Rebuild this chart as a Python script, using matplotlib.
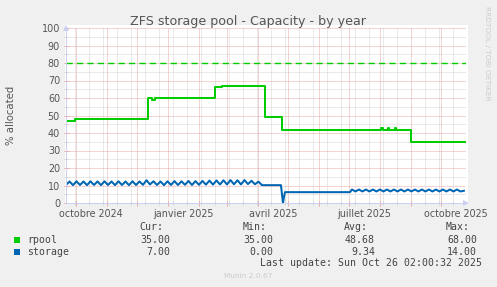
import datetime as dt
import numpy as np
import pandas as pd
import matplotlib
matplotlib.use("Agg")
import matplotlib.pyplot as plt
import matplotlib.dates as mdates
from matplotlib.patches import Rectangle
from matplotlib.ticker import MultipleLocator, FixedLocator

# ------------------------- data -------------------------
title = "ZFS storage pool - Capacity - by year"
y_label = "% allocated"

rpool_dates = ["2024-09-21", "2024-09-30", "2024-12-12", "2024-12-16", "2024-12-19",
               "2025-02-17", "2025-02-24", "2025-04-08", "2025-04-25",
               "2025-08-02", "2025-08-04", "2025-08-09", "2025-08-10",
               "2025-08-16", "2025-08-17", "2025-09-01", "2025-10-26"]
rpool_values = [46.7, 48.0, 60.0, 59.0, 60.0,
                66.2, 66.9, 49.2, 41.9,
                42.7, 41.9, 42.7, 41.9,
                42.7, 41.9, 35.0, 35.0]

# storage: half-week samples from 2024-09-21
storage_wave1_start = "2024-09-21"
storage_wave1 = [10.3, 12.3, 10.2, 12.4, 10.3, 12.3, 10.2, 12.4, 10.3, 12.3,
                 10.2, 12.4, 10.3, 12.3, 10.2, 12.4, 10.3, 12.3, 10.2, 12.4,
                 10.3, 12.3, 10.4, 13.0, 10.6, 12.4, 10.3, 12.3, 10.2, 12.4,
                 10.3, 12.5, 10.3, 12.4, 10.4, 12.6, 10.3, 12.5, 10.4, 12.6,
                 10.5, 12.8, 10.5, 12.9, 10.6, 13.0, 10.6, 13.1, 10.7, 13.0,
                 10.6, 13.1, 10.8, 12.7, 10.7, 12.2, 10.2]
storage_mid_dates = ["2025-04-05", "2025-04-24", "2025-04-26", "2025-04-28", "2025-07-02"]
storage_mid_values = [10.2, 10.2, 0.0, 6.2, 6.2]
storage_wave2_start = "2025-07-04"
storage_wave2 = [7.7, 6.6, 7.7, 6.6, 7.7, 6.6, 7.7, 6.6, 7.7, 6.6,
                 7.7, 6.6, 7.7, 6.6, 7.7, 6.6, 7.7, 6.6, 7.7, 6.6,
                 7.7, 6.6, 7.7, 6.6, 7.7, 6.6, 7.7, 6.6, 7.7, 6.6,
                 7.7, 6.6, 7.0]
sample_step_days = 3.5

warning_level = 80

x_label_dates = ["2024-10-16", "2025-01-16", "2025-04-16", "2025-07-16", "2025-10-16"]
x_labels = ["octobre 2024", "janvier 2025", "avril 2025", "juillet 2025", "octobre 2025"]

legend_names = ["rpool", "storage"]
legend_cur = ["35.00", "7.00"]
legend_min = ["35.00", "0.00"]
legend_avg = ["48.68", "9.34"]
legend_max = ["68.00", "14.00"]
last_update = "Last update: Sun Oct 26 02:00:32 2025"
footer = "Munin 2.0.67"
watermark = "RRDTOOL / TOBI OETIKER"

c_green = "#00cc00"
c_blue = "#0066b3"

# ------------------------- build series -------------------------
r_x = pd.to_datetime(rpool_dates)
w1_x = pd.Timestamp(storage_wave1_start) + pd.to_timedelta(np.arange(len(storage_wave1)) * sample_step_days, unit="D")
w2_x = pd.Timestamp(storage_wave2_start) + pd.to_timedelta(np.arange(len(storage_wave2)) * sample_step_days, unit="D")
s_x = list(w1_x) + list(pd.to_datetime(storage_mid_dates)) + list(w2_x)
s_y = list(storage_wave1) + list(storage_mid_values) + list(storage_wave2)

# ------------------------- figure -------------------------
W, H = 497, 287
L, R, T, B = 66, 466, 28, 203
fig = plt.figure(figsize=(W / 100, H / 100), dpi=100, facecolor="#f0f0f0")
fig.patches.append(Rectangle((65 / W, 1 - 204 / H), (468 - 65) / W, (204 - 25) / H,
                             transform=fig.transFigure, facecolor="white",
                             edgecolor="none", zorder=-1))
ax = fig.add_axes([L / W, 1 - B / H, (R - L) / W, (B - T) / H])
ax.set_facecolor("white")

x0, x1 = dt.datetime(2024, 9, 21), dt.datetime(2025, 10, 26, 2)
ax.set_xlim(x0, x1)
ax.set_ylim(0, 100)

# grid (dotted)
grid_major = "#e8aaaa"
grid_minor = "#d5d5d5"
month_starts = mdates.date2num(pd.date_range("2024-10-01", "2025-10-01", freq="MS"))
minor_dates = mdates.date2num(pd.date_range("2024-09-30", "2025-10-26", freq="2W-MON"))
minor_dates = [d for d in minor_dates if d not in set(month_starts)]
dot = (0, (1, 1))
ax.vlines(minor_dates, 0, 100, colors=grid_minor, linestyles=dot, lw=0.72, zorder=1)
ax.hlines(np.arange(5, 100, 10), mdates.date2num(x0), mdates.date2num(x1),
          colors=grid_minor, linestyles=dot, lw=0.72, zorder=1)
ax.vlines(month_starts, 0, 100, colors=grid_major, linestyles=dot, lw=0.72, zorder=2)
ax.hlines(np.arange(10, 101, 10), mdates.date2num(x0), mdates.date2num(x1),
          colors=grid_major, linestyles=dot, lw=0.72, zorder=2, clip_on=False)

ax.axhline(warning_level, color=c_green, lw=1.0, linestyle=(0, (4.5, 3)), zorder=4)
ax.plot(r_x, rpool_values, color=c_green, lw=1.45, drawstyle="steps-post", zorder=5)
ax.plot(s_x, s_y, color=c_blue, lw=1.45, zorder=5)

ax.xaxis.set_major_locator(FixedLocator(month_starts))
ax.xaxis.set_minor_locator(FixedLocator(minor_dates))
ax.yaxis.set_major_locator(MultipleLocator(10))
ax.yaxis.set_minor_locator(MultipleLocator(5))

for s in ["top", "right"]:
    ax.spines[s].set_visible(False)
axis_col = "#c9d0f2"
for s in ["left", "bottom"]:
    ax.spines[s].set_color(axis_col)
    ax.spines[s].set_linewidth(0.72)
    ax.spines[s].set_zorder(6)

ax.tick_params(axis="x", which="major", direction="inout", length=3.6, width=0.72,
               color=grid_major, labelbottom=False)
ax.tick_params(axis="x", which="minor", direction="inout", length=2.2, width=0.72,
               color=grid_minor, labelbottom=False)
ax.tick_params(axis="y", which="major", direction="inout", length=3.6, width=0.72,
               color=grid_major, labelsize=6.9, labelcolor="#555555", pad=2.5)
ax.tick_params(axis="y", which="minor", direction="inout", length=2.2, width=0.72,
               color=grid_minor)

sec = ax.secondary_xaxis("bottom")
sec.set_xticks(mdates.date2num(pd.to_datetime(x_label_dates)))
sec.set_xticklabels(x_labels)
sec.tick_params(length=0, pad=4.2, labelsize=6.9, labelcolor="#555555")
sec.spines["bottom"].set_visible(False)

# axis arrows
ax.plot([0], [1.0], marker="^", ms=4, color=axis_col, transform=ax.transAxes,
        clip_on=False, zorder=6, markeredgewidth=0)
ax.plot([1.0], [0], marker=">", ms=4, color=axis_col, transform=ax.transAxes,
        clip_on=False, zorder=6, markeredgewidth=0)

# texts
def fx(x):
    return x / W

def fy(y):
    return 1 - y / H

fig.text(fx(248), fy(25.5), title, ha="center", va="baseline", fontsize=9.1,
         color="#555555")
fig.text(fx(11), fy(115.5), y_label, ha="center", va="center", rotation=90,
         fontsize=7.3, color="#555555")
fig.text(fx(487.5), fy(53.5), watermark, ha="center", va="center", rotation=270,
         fontsize=5.3, color="#cccccc")

mono = dict(family="DejaVu Sans Mono", fontsize=7.1, color="#444444")
fig.text(fx(163), fy(227.5), "Cur:", ha="right", va="center", **mono)
fig.text(fx(267), fy(227.5), "Min:", ha="right", va="center", **mono)
fig.text(fx(368), fy(227.5), "Avg:", ha="right", va="center", **mono)
fig.text(fx(470), fy(227.5), "Max:", ha="right", va="center", **mono)

colors = [c_green, c_blue]
row_y = [240, 252]
for i in range(2):
    y = row_y[i]
    fig.patches.append(Rectangle((fx(14), fy(y + 3)), 6 / W, 6 / H,
                                 transform=fig.transFigure, facecolor=colors[i],
                                 edgecolor="none"))
    fig.text(fx(27), fy(y), legend_names[i], ha="left", va="center", **mono)
    fig.text(fx(170), fy(y), legend_cur[i], ha="right", va="center", **mono)
    fig.text(fx(273), fy(y), legend_min[i], ha="right", va="center", **mono)
    fig.text(fx(375), fy(y), legend_avg[i], ha="right", va="center", **mono)
    fig.text(fx(477), fy(y), legend_max[i], ha="right", va="center", **mono)

fig.text(fx(482), fy(263.5), last_update, ha="right", va="center", **mono)
fig.text(fx(248), fy(276), footer, ha="center", va="center", fontsize=5.3,
         color="#cccccc")

fig.savefig("out.png", dpi=100, facecolor=fig.get_facecolor())
